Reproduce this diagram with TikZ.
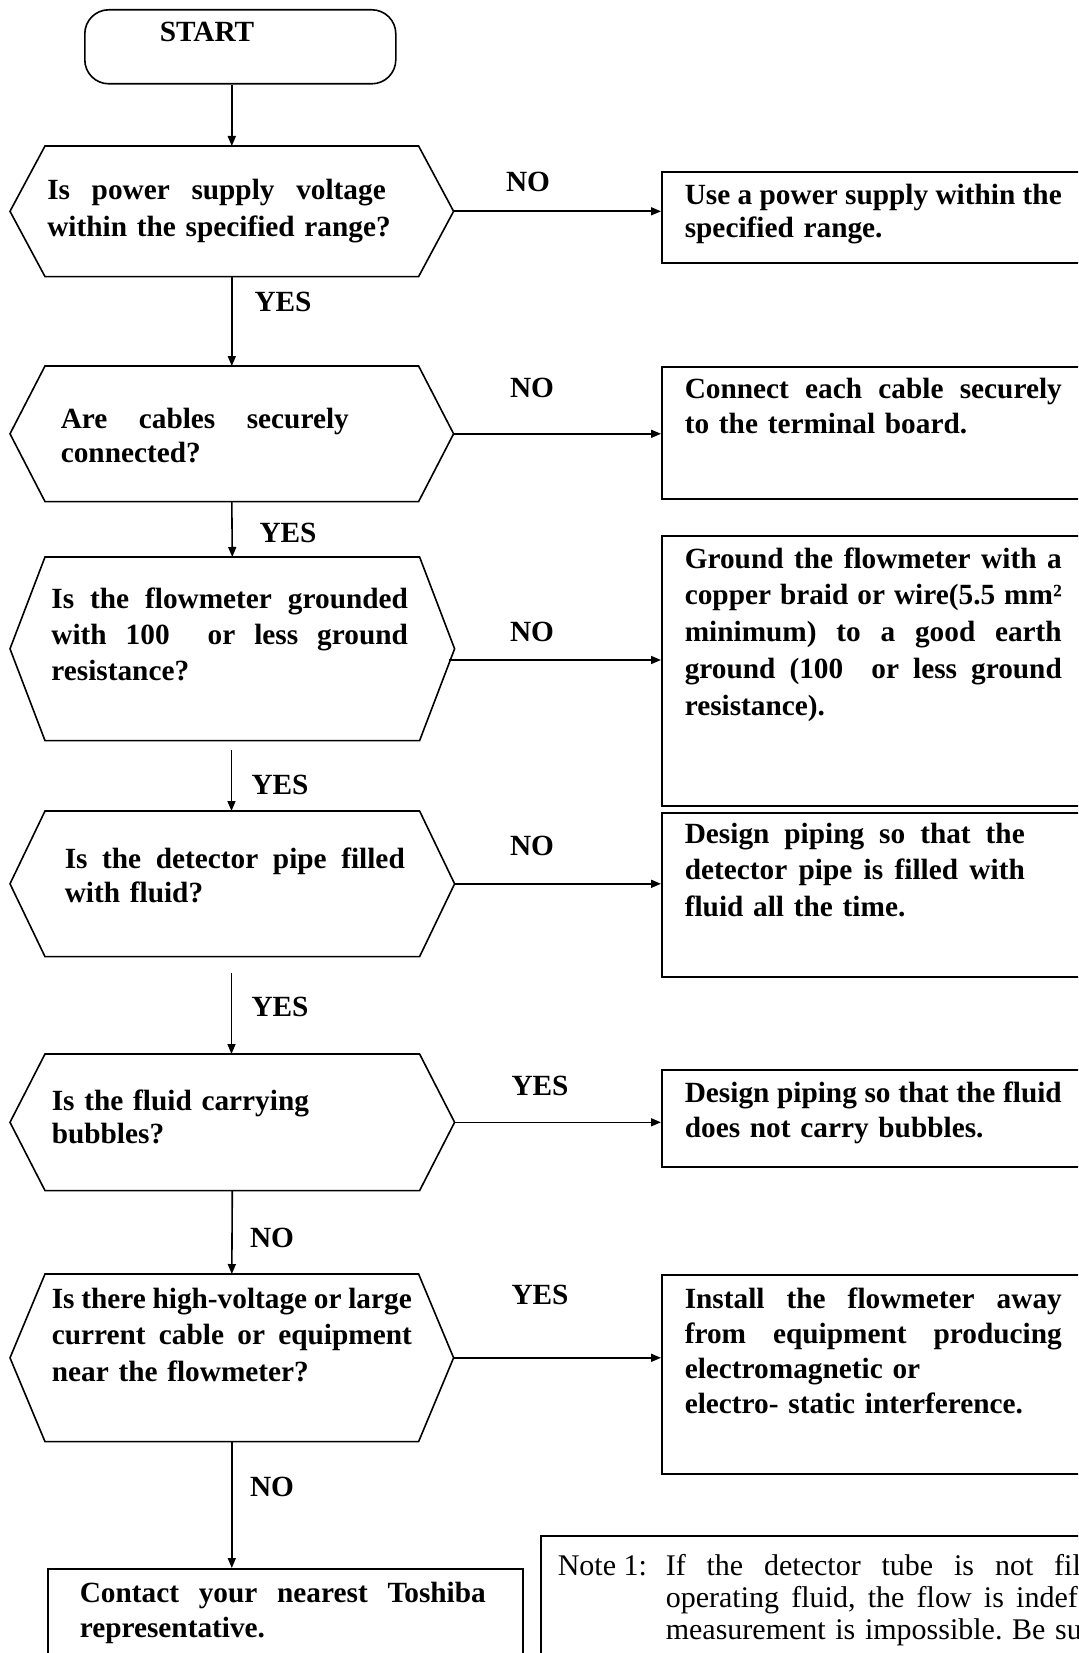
\documentclass[tikz,border=0pt]{standalone}
\usepackage{fontspec}
\setmainfont{Liberation Serif}
\usetikzlibrary{arrows.meta}
\newcommand\hexdraw[1]{\draw (#1.west) -- ([xshift=35pt]#1.north west) -- ([xshift=-35pt]#1.north east) -- (#1.east) -- ([xshift=-35pt]#1.south east) -- ([xshift=35pt]#1.south west) -- cycle;}
\newcommand\jl[2]{{\spaceskip=0pt\xspaceskip=0pt\makebox[#1][s]{#2}}\par}
\begin{document}
\begin{tikzpicture}[x=1pt,y=-1pt,line width=1.6pt,
  txt/.style={inner sep=0pt,anchor=base west,align=left,text width=440pt,font=\fontsize{29.3pt}{#1}\selectfont\bfseries},
  txt/.default=36pt,
  lbl/.style={inner sep=0pt,font=\fontsize{29.3pt}{34pt}\selectfont\bfseries},
  note/.style={inner sep=0pt,anchor=base west,font=\fontsize{30pt}{32pt}\selectfont\frenchspacing},
  boxr/.style={draw,rectangle,inner sep=0pt,anchor=north west},
  hexr/.style={rectangle,inner sep=0pt,anchor=north west},
  arr/.style={-{Triangle[length=10pt,width=8pt]}}]
\useasboundingbox (0,0) rectangle (1078,1653);
\clip (0,0) rectangle (1078,1653);
\fill[white] (0,0) rectangle (1078,1653);

% start
\node[draw,rounded corners=24pt,minimum width=311pt,minimum height=74pt,anchor=north west,inner sep=0pt] (start) at (84,9) {};
\node[lbl,anchor=base] (starttxt) at (207,42) {START};

% decision hexagons
\node[hexr,minimum width=442pt,minimum height=129pt] (h1) at (10,146) {};
\node[hexr,minimum width=442pt,minimum height=134pt] (h2) at (10,366) {};
\node[hexr,minimum width=443pt,minimum height=182pt] (h3) at (10,557) {};
\node[hexr,minimum width=443pt,minimum height=144pt] (h4) at (10,811) {};
\node[hexr,minimum width=443pt,minimum height=135pt] (h5) at (10,1054) {};
\node[hexr,minimum width=442pt,minimum height=166pt] (h6) at (10,1274) {};
\hexdraw{h1}\hexdraw{h2}\hexdraw{h3}\hexdraw{h4}\hexdraw{h5}\hexdraw{h6}

\node[txt=37pt] (t1) at (46.5,200) {\jl{338.5pt}{Is power supply voltage}within the specified range?};
\node[txt=34pt] (t2) at (60,428) {\jl{288pt}{Are cables securely}connected?};
\node[txt=36pt] (t3) at (50.6,608) {\jl{356.5pt}{Is the flowmeter grounded}\jl{356.5pt}{with 100\ \ or less ground}resistance?};
\node[txt=34pt] (t4) at (64,868) {\jl{340pt}{Is the detector pipe filled}with fluid?};
\node[txt=33pt] (t5) at (51,1110) {Is the fluid carrying\par bubbles?};
\node[txt=36.5pt] (t6) at (51,1308) {\jl{360pt}{Is there high-voltage or large}\jl{360pt}{current cable or equipment}near the flowmeter?};

% action boxes
\node[boxr,minimum width=460pt,minimum height=91pt] (b1) at (661,171) {};
\node[boxr,minimum width=460pt,minimum height=132pt] (b2) at (661,366) {};
\node[boxr,minimum width=460pt,minimum height=270pt] (b3) at (661,535) {};
\node[boxr,minimum width=460pt,minimum height=164pt] (b4) at (661,812) {};
\node[boxr,minimum width=460pt,minimum height=97pt] (b5) at (661,1069) {};
\node[boxr,minimum width=460pt,minimum height=199pt] (b6) at (661,1274) {};
\node[boxr,minimum width=475pt,minimum height=150pt] (contact) at (47,1568) {};
\node[boxr,minimum width=600pt,minimum height=200pt] (notebox) at (540,1535) {};

\node[txt=33pt] (u1) at (684,205) {\jl{377pt}{Use a power supply within the}specified range.};
\node[txt=35pt] (u2) at (684,398) {\jl{377pt}{Connect each cable securely}to the terminal board.};
\node[txt=36.75pt] (u3) at (684,568) {\jl{377pt}{Ground the flowmeter with a}\jl{377pt}{copper braid or wire(5.5 mm²}\jl{377pt}{minimum) to a good earth}\jl{377pt}{ground (100\ \ or less ground}resistance).};
\node[txt=36.5pt] (u4) at (684,843) {\jl{340pt}{Design piping so that the}\jl{340pt}{detector pipe is filled with}fluid all the time.};
\node[txt=35pt] (u5) at (684,1102) {\jl{377pt}{Design piping so that the fluid}does not carry bubbles.};
\node[txt=35pt] (u6) at (684,1308) {\jl{377pt}{Install the flowmeter away}\jl{377pt}{from equipment producing}electromagnetic or\par electro- static interference.};
\node[txt=35pt] (u7) at (79,1602) {\jl{406pt}{Contact your nearest Toshiba}representative.};

% note
\node[note] (n0) at (557,1575) {Note 1:};
\node[note] (n1) at (665,1575) {\makebox[415pt][s]{If the detector tube is not fil}};
\node[note] (n2) at (665,1607) {\makebox[412pt][s]{operating fluid, the flow is indef}};
\node[note] (n3) at (665,1639) {\makebox[416pt][s]{measurement is impossible. Be su}};

% vertical connectors
\draw[arr] (h1.north |- start.south) -- (h1.north);
\draw[arr] (h1.south) -- (h2.north);
\draw[arr] (h2.south) -- (h3.north);
\coordinate (c3) at (231.5,750);
\draw[arr] (c3) -- (c3 |- h4.north);
\coordinate (c4) at (231.5,973);
\draw[arr] (c4) -- (c4 |- h5.north);
\draw[arr] (h5.south) -- (h6.north);
\draw[arr] (h6.south) -- (h6.south |- contact.north);

% horizontal connectors
\draw[arr] (h1.east) -- (h1.east -| b1.west);
\draw[arr] (h2.east) -- (h2.east -| b2.west);
\coordinate (a3) at (448.5,660);
\draw[arr] (a3) -- (a3 -| b3.west);
\draw[arr] (h4.east) -- (h4.east -| b4.west);
\draw[arr] (h5.east) -- (h5.east -| b5.west);
\draw[arr] (h6.east) -- (h6.east -| b6.west);

% labels
\node[lbl] (y1) at (283,302) {YES};
\node[lbl] (y2) at (288,533) {YES};
\node[lbl] (y3) at (280,785) {YES};
\node[lbl] (y4) at (280,1007) {YES};
\node[lbl] (nn5) at (272,1238) {NO};
\node[lbl] (nn6) at (272,1487) {NO};
\node[lbl] (nr1) at (528,182) {NO};
\node[lbl] (nr2) at (532,388) {NO};
\node[lbl] (nr3) at (532,632) {NO};
\node[lbl] (nr4) at (532,846) {NO};
\node[lbl] (yr5) at (540,1086) {YES};
\node[lbl] (yr6) at (540,1295) {YES};
\end{tikzpicture}
\end{document}
